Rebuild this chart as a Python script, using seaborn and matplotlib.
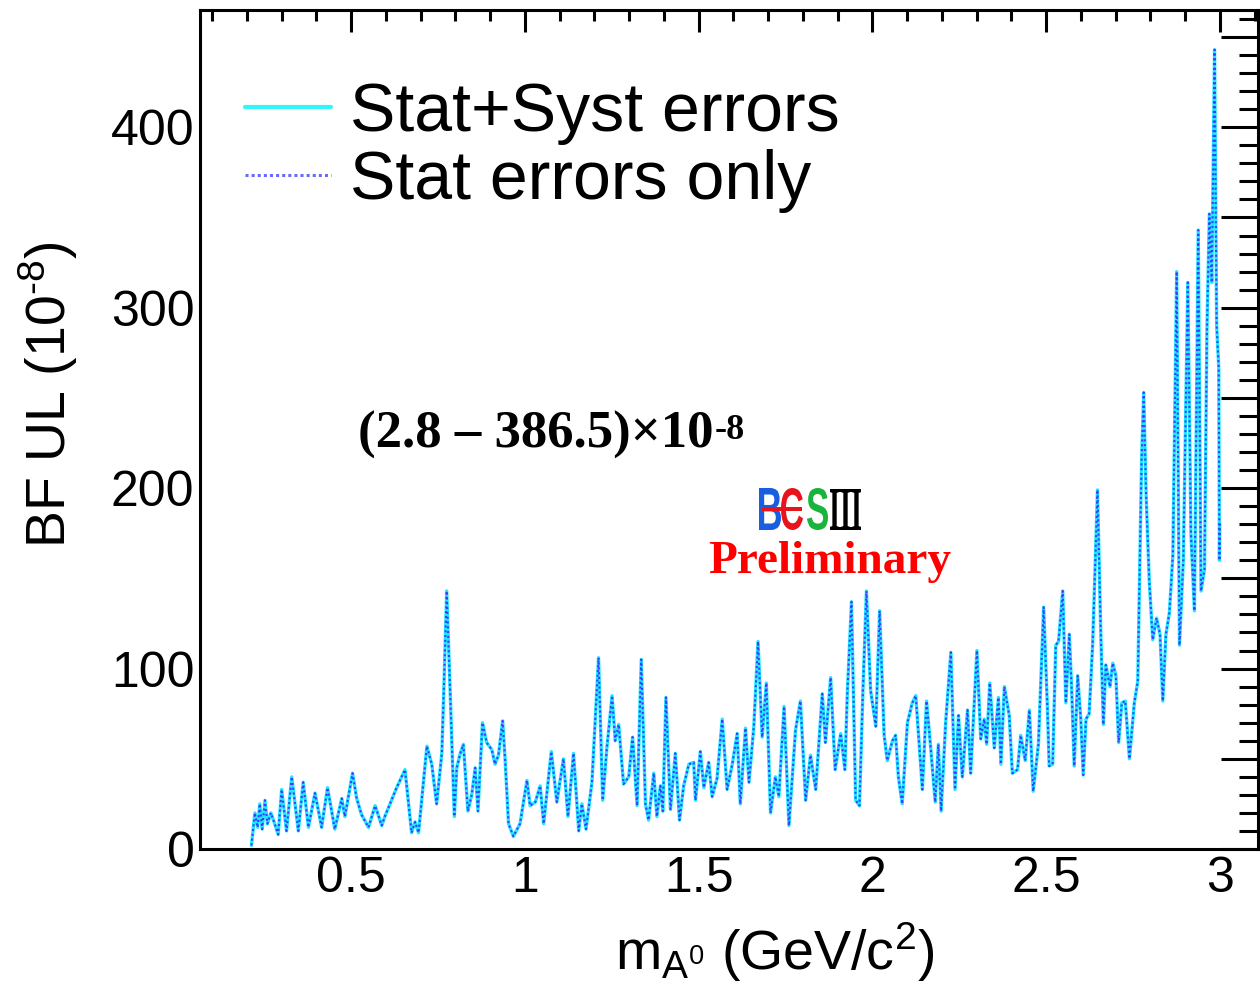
import numpy as np
import pandas as pd
import matplotlib
matplotlib.use("Agg")
import matplotlib.pyplot as plt
import seaborn as sns
from matplotlib.ticker import MultipleLocator, FuncFormatter
from matplotlib.lines import Line2D
from matplotlib.textpath import TextPath
from matplotlib.patches import PathPatch, Rectangle
from matplotlib.transforms import Affine2D
from matplotlib.font_manager import FontProperties

# ---------------- data ----------------
mass = [0.213, 0.223, 0.231, 0.237, 0.244, 0.252, 0.259, 0.269, 0.280, 0.290,
        0.300, 0.314, 0.329, 0.348, 0.362, 0.377, 0.396, 0.415, 0.432, 0.453,
        0.473, 0.482, 0.504, 0.516, 0.530, 0.550, 0.569, 0.588, 0.597, 0.631,
        0.655, 0.674, 0.684, 0.694, 0.718, 0.732, 0.746, 0.761, 0.767, 0.775,
        0.785, 0.797, 0.804, 0.814, 0.823, 0.836, 0.847, 0.857, 0.865, 0.878,
        0.890, 0.905, 0.914, 0.924, 0.936, 0.943, 0.953, 0.967, 0.986, 1.006,
        1.015, 1.030, 1.044, 1.054, 1.076, 1.092, 1.111, 1.124, 1.140, 1.155,
        1.164, 1.176, 1.193, 1.212, 1.224, 1.236, 1.251, 1.260, 1.270, 1.284,
        1.299, 1.310, 1.323, 1.335,
        1.347, 1.356, 1.371, 1.380, 1.390, 1.397, 1.406, 1.419, 1.433, 1.445,
        1.457, 1.472, 1.486, 1.491, 1.505, 1.515, 1.529, 1.539, 1.553, 1.568,
        1.582, 1.597, 1.611, 1.620, 1.635, 1.645, 1.659, 1.671, 1.683, 1.695,
        1.707, 1.721, 1.731, 1.746, 1.760, 1.779, 1.793, 1.808, 1.822, 1.837,
        1.856, 1.865, 1.880, 1.893, 1.909, 1.921,
        1.928, 1.940, 1.952, 1.963, 1.973, 1.983, 1.995, 2.010, 2.021, 2.034,
        2.043, 2.058, 2.067, 2.075, 2.086, 2.101, 2.115, 2.125, 2.144, 2.156,
        2.168, 2.181, 2.190, 2.198, 2.211, 2.226, 2.238, 2.248, 2.259, 2.274,
        2.283, 2.301, 2.312, 2.322, 2.329, 2.338, 2.351, 2.363, 2.370, 2.380,
        2.394, 2.403, 2.418, 2.427, 2.440, 2.452, 2.463, 2.478, 2.493,
        2.504, 2.509, 2.519, 2.528, 2.536, 2.548, 2.557, 2.567, 2.574, 2.581,
        2.591, 2.600, 2.607, 2.615, 2.624, 2.634, 2.641, 2.648, 2.658, 2.665,
        2.672, 2.684, 2.692, 2.701, 2.709, 2.718, 2.728, 2.740, 2.754, 2.764,
        2.769, 2.775, 2.781, 2.788, 2.797, 2.807, 2.818, 2.828, 2.836, 2.845,
        2.855, 2.865, 2.876, 2.884, 2.895, 2.908, 2.917, 2.927, 2.938, 2.946,
        2.956, 2.963, 2.970, 2.977, 2.985, 2.991, 2.997, 2.999, 3.000]

ul_stat_syst = [2, 20, 12, 25, 11, 27, 14, 20, 14, 8,
                33, 10, 40, 10, 37, 12, 31, 12, 34, 11,
                28, 18, 42, 28, 19, 12, 24, 13, 18, 34,
                44, 9, 15, 9, 57, 47, 25, 53, 90, 143,
                87, 18, 45, 53, 58, 21, 30, 45, 21, 70,
                59, 55, 47, 52, 71, 50, 14, 7, 14, 38,
                24, 26, 35, 14, 54, 26, 50, 18, 53, 10,
                25, 11, 37, 106, 27, 56, 85, 60, 69, 36,
                40, 62, 24, 105,
                25, 16, 42, 18, 35, 21, 84, 22, 53, 16,
                35, 47, 48, 27, 54, 34, 48, 29, 39, 72,
                33, 47, 64, 25, 67, 37, 68, 115, 62, 92,
                20, 40, 29, 79, 13, 66, 82, 27, 52, 33,
                86, 59, 95, 44, 64, 44,
                86, 137, 27, 24, 88, 143, 88, 68, 132, 63,
                49, 60, 63, 40, 25, 70, 81, 85, 33, 82,
                56, 26, 58, 21, 70, 109, 33, 74, 40, 77,
                42, 110, 61, 72, 58, 92, 56, 84, 47, 90,
                74, 42, 44, 63, 49, 77, 32, 58, 134,
                78, 46, 47, 113, 115, 143, 81, 119, 87, 46,
                96, 72, 41, 72, 75, 113, 155, 199, 116, 69,
                102, 90, 103, 96, 59, 81, 82, 50, 81, 93,
                149, 216, 253, 196, 149, 116, 128, 119, 82, 119,
                131, 163, 320, 113, 160, 314, 175, 132, 343, 143,
                155, 287, 352, 314, 443, 290, 267, 160, 180]

# the stat-only curve is indistinguishable from the stat+syst one in the picture
ul_stat_only = list(ul_stat_syst)

series_labels = ["Stat+Syst errors", "Stat errors only"]
x_title = r"m$_{\mathrm{A^{0}}}$ (GeV/c$^{2}$)"
y_title = r"BF UL (10$^{\text{-}8}$)"
range_text = "(2.8 \u2013 386.5)\u00d710"
range_exp = "-8"

# ---------------- style ----------------
sns.set_theme(style="white")
plt.rcParams['font.family'] = ['Liberation Sans', 'DejaVu Sans']
plt.rcParams['text.color'] = 'black'
plt.rcParams['axes.labelcolor'] = 'black'
plt.rcParams['mathtext.fontset'] = 'custom'
plt.rcParams['mathtext.rm'] = 'Liberation Sans'
plt.rcParams['mathtext.it'] = 'Liberation Sans'
plt.rcParams['mathtext.bf'] = 'Liberation Sans:bold'

W, H = 1260, 993
fig = plt.figure(figsize=(W / 100, H / 100), dpi=100)
fig.patch.set_facecolor('white')
ax = fig.add_axes([200 / W, 144 / H, 1058 / W, 839 / H])
ax.set_facecolor('white')

df = pd.DataFrame({'mass': mass, 'syst': ul_stat_syst, 'stat': ul_stat_only})
cyan = '#1ee8ff'
blue = '#3c3cff'
sns.lineplot(data=df, x='mass', y='syst', ax=ax, color=cyan, linewidth=2.4,
             estimator=None, sort=False, legend=False)
sns.lineplot(data=df, x='mass', y='stat', ax=ax, color=blue, linewidth=1.5,
             linestyle=(0, (1, 1.3)), estimator=None, sort=False, legend=False)

ax.set_xlim(0.065, 3.11)
ax.set_ylim(0, 465)

ax.xaxis.set_major_locator(MultipleLocator(0.5))
ax.xaxis.set_minor_locator(MultipleLocator(0.1))
ax.yaxis.set_major_locator(MultipleLocator(50))
ax.yaxis.set_minor_locator(MultipleLocator(10))
ax.xaxis.set_major_formatter(FuncFormatter(lambda v, p: f"{v:g}" if v > 0.01 else ""))
ax.yaxis.set_major_formatter(FuncFormatter(lambda v, p: f"{int(round(v))}" if abs(v % 100) < 1e-6 or abs(v % 100 - 100) < 1e-6 else ""))

ax.tick_params(axis='both', which='both', direction='in', top=True, right=True,
               width=2.2, color='black', labelcolor='black')
ax.tick_params(axis='x', which='major', length=16, labelsize=36, pad=5)
ax.tick_params(axis='x', which='minor', length=8)
ax.tick_params(axis='y', which='major', length=27, labelsize=36, pad=4)
ax.tick_params(axis='y', which='minor', length=14)
for s in ax.spines.values():
    s.set_visible(True)
    s.set_linewidth(2.2)
    s.set_color('black')

ax.set_xlabel(x_title, fontsize=40, color='black')
ax.xaxis.set_label_coords(0.5435, -0.085)
ax.set_ylabel(y_title, fontsize=40, color='black')
ax.yaxis.set_label_coords(-0.113, 0.541)

# legend
handles = [Line2D([], [], color='#33f5ff', lw=3),
           Line2D([], [], color='#6a6aff', lw=2.2, linestyle=(0, (1, 1)))]
leg = ax.legend(handles=handles, labels=series_labels, loc='upper left',
                bbox_to_anchor=(0.043, 0.915), frameon=False, fontsize=49,
                handlelength=1.25, handletextpad=0.28, labelspacing=0.05,
                borderpad=0, borderaxespad=0, labelcolor='black')

# range annotation
t = ax.text(0.149, 0.478, range_text, transform=ax.transAxes, fontsize=38,
            family=['Liberation Serif'], fontweight='bold', color='black',
            ha='left', va='baseline')
ax.annotate(range_exp, xy=(1.0, 1.0), xycoords=t, xytext=(1, -2),
            textcoords='offset points', fontsize=26, family=['Liberation Serif'],
            fontweight='bold', color='black', ha='left', va='top')

ax.text(0.595, 0.329, "Preliminary", transform=ax.transAxes, fontsize=34,
        family=['Liberation Serif'], fontweight='bold', color='#ff0000',
        ha='center', va='baseline')

# BESIII logo (decoration, pixel placement)
def logo_glyph(ch, x0, x1, ytop, ybot, color, family, weight):
    fp = FontProperties(family=family, weight=weight)
    tp = TextPath((0, 0), ch, size=100, prop=fp)
    bb = tp.get_extents()
    sx = (x1 - x0) / bb.width
    sy = (ybot - ytop) / bb.height
    tr = Affine2D().translate(-bb.x0, -bb.y0).scale(sx, sy).translate(x0, H - ybot)
    fig.add_artist(PathPatch(tp, transform=tr, facecolor=color, edgecolor='none'))

logo_glyph("B", 759, 781, 488, 530, '#1a5ee0', 'Liberation Sans', 'bold')
logo_glyph("C", 781, 803, 488, 530, '#e8141c', 'Liberation Sans', 'bold')
fig.add_artist(Rectangle((762, H - 511), 40, 4, transform=None,
                         facecolor='#e8141c', edgecolor='none'))
logo_glyph("S", 807, 828, 488, 530, '#19b43c', 'Liberation Sans', 'bold')
logo_glyph("III", 830, 861, 490, 529, 'black', 'Liberation Serif', 'bold')
fig.add_artist(Rectangle((830, H - 492), 31, 3, transform=None, facecolor='black', edgecolor='none'))
fig.add_artist(Rectangle((830, H - 530), 31, 3, transform=None, facecolor='black', edgecolor='none'))

fig.savefig("out.png", dpi=100, facecolor='white')
